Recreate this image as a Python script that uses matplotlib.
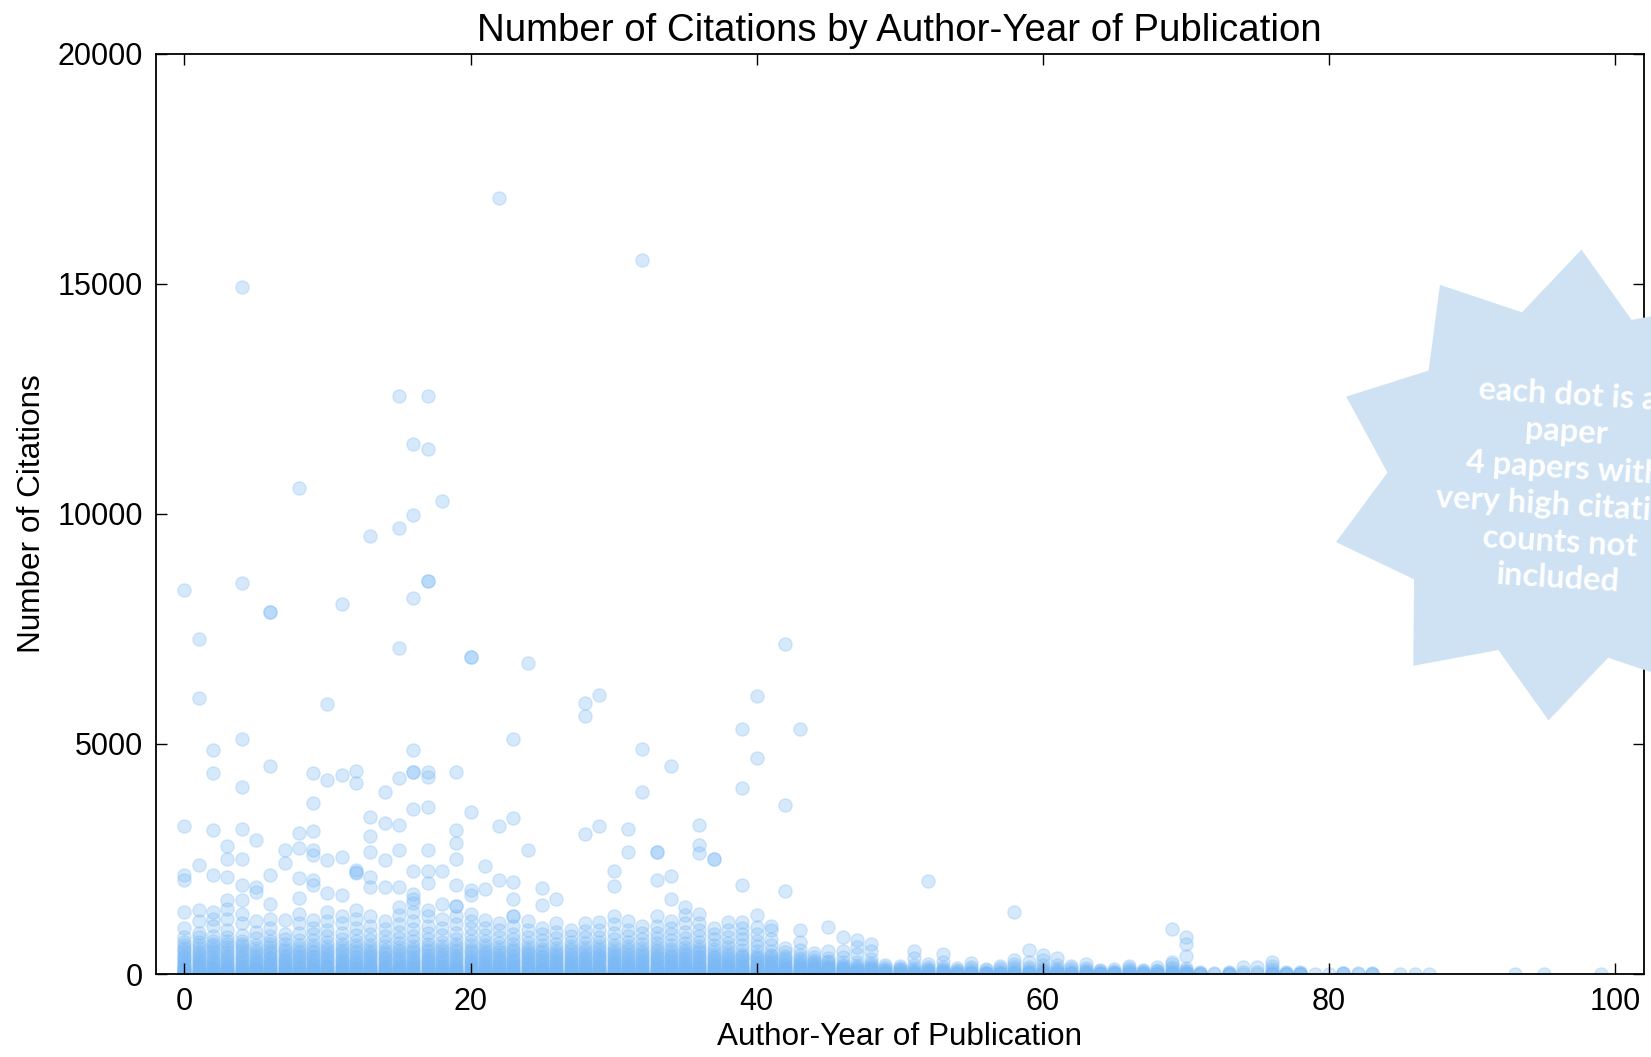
import numpy as np
import matplotlib
matplotlib.use("Agg")
import matplotlib.pyplot as plt
from matplotlib.patches import Polygon

# Highly cited papers that stand out above the crowded band
outlier_years = [
    0, 0, 0, 0, 0,
    1, 1, 1, 1,
    2, 2, 2, 2, 2,
    3, 3, 3, 3, 3,
    4, 4, 4, 4, 4, 4, 4, 4,
    5, 5, 5,
    6, 6, 6, 6, 6,
    7, 7, 7,
    8, 8, 8, 8, 8,
    9, 9, 9, 9, 9, 9, 9,
    10, 10, 10, 10,
    11, 11, 11, 11,
    12, 12, 12, 12, 12,
    13, 13, 13, 13, 13, 13,
    14, 14, 14, 14,
    15, 15, 15, 15, 15, 15, 15,
    16, 16, 16, 16, 16, 16, 16, 16, 16, 16,
    17, 17, 17, 17, 17, 17, 17, 17, 17, 17,
    18, 18, 18,
    19, 19, 19, 19, 19, 19, 19,
    20, 20, 20, 20, 20,
    21, 21,
    22, 22, 22,
    23, 23, 23, 23, 23, 23,
    24, 24,
    25, 25,
    26,
    28, 28, 28,
    29, 29,
    30, 30,
    31, 31,
    32, 32, 32,
    33, 33, 33,
    34, 34, 34,
    35,
    36, 36, 36,
    37, 37,
    38,
    39, 39, 39,
    40, 40,
    42, 42, 42,
    43,
    52, 58, 69,
    70, 70, 70,
]
outlier_cites = [
    8350, 3220, 2150, 2040, 1350,
    7280, 6000, 2370, 1390,
    4870, 4370, 3130, 2150, 1350,
    2780, 2510, 2110, 1600, 1420,
    14920, 8490, 5100, 4060, 3150, 2500, 1940, 1600,
    2910, 1890, 1780,
    7870, 7870, 4510, 2150, 1530,
    2700, 2410, 1170,
    10570, 3070, 2730, 2080, 1650,
    4370, 3710, 3110, 2700, 2590, 2040, 1930,
    5860, 4210, 2480, 1750,
    8050, 4320, 2550, 1720,
    4420, 4160, 2260, 2190, 2220,
    9520, 3420, 2990, 2660, 2110, 1890,
    3960, 3290, 2480, 1890,
    12560, 9700, 7090, 4260, 3240, 2700, 1890,
    11510, 9980, 8170, 4870, 4390, 4390, 3580, 2240, 1730, 1620,
    12560, 11420, 8530, 8530, 4390, 4280, 3620, 2700, 2240, 1970,
    10270, 2240, 1520,
    4390, 3130, 2850, 2500, 1930, 1480, 1480,
    6890, 6890, 3530, 1830, 1720,
    2350, 1840,
    16860, 3220, 2040,
    5100, 3400, 1990, 1620, 1250, 1250,
    6750, 2700,
    1860, 1500,
    1640,
    5880, 5610, 3040,
    6060, 3220,
    2240, 1910,
    3150, 2660,
    15510, 4900, 3960,
    2660, 2660, 2050,
    4530, 2120, 1640,
    1460,
    3240, 2810, 2630,
    2500, 2500,
    1130,
    5330, 4050, 1930,
    6040, 4690,
    7180, 3680, 1810,
    5330,
    2030, 1350, 980,
    800, 660, 390,
]

# Crowded low-citation papers, one list per author-year (index = year)
band_cites = [
    [0, 0, 0, 10, 20, 40, 60, 80, 100, 130, 160, 190, 220, 260, 300, 340, 380, 420, 470, 520, 570, 630, 700, 800, 1000],
    [0, 0, 10, 20, 30, 50, 70, 90, 120, 150, 180, 210, 250, 290, 330, 370, 410, 460, 510, 560, 620, 700, 800, 900, 1150],
    [0, 0, 0, 10, 30, 50, 70, 100, 130, 160, 190, 230, 270, 310, 350, 400, 450, 500, 550, 600, 660, 720, 820, 1050, 1200],
    [0, 0, 10, 20, 40, 60, 80, 110, 140, 170, 200, 240, 280, 320, 370, 420, 470, 520, 580, 650, 720, 800, 950, 1200],
    [0, 0, 0, 10, 30, 50, 70, 90, 120, 150, 180, 220, 260, 300, 340, 390, 440, 490, 540, 600, 660, 720, 850, 1100, 1300],
    [0, 0, 10, 20, 40, 60, 80, 100, 130, 160, 190, 230, 270, 310, 350, 400, 450, 500, 560, 640, 780, 920, 1150],
    [0, 0, 0, 10, 30, 50, 70, 100, 130, 160, 190, 220, 260, 300, 340, 380, 430, 480, 530, 580, 650, 720, 820, 1000, 1200],
    [0, 0, 10, 20, 40, 60, 90, 120, 150, 180, 210, 250, 290, 330, 370, 420, 470, 520, 570, 650, 760, 880],
    [0, 0, 0, 10, 30, 50, 70, 100, 130, 160, 200, 240, 280, 320, 360, 410, 460, 510, 560, 630, 740, 900, 1100, 1300],
    [0, 0, 10, 20, 40, 60, 80, 110, 140, 170, 200, 240, 280, 320, 360, 400, 450, 500, 560, 640, 740, 860, 1000, 1180],
    [0, 0, 0, 10, 30, 50, 70, 90, 120, 150, 180, 220, 260, 300, 340, 390, 440, 490, 540, 600, 700, 820, 960, 1150, 1350],
    [0, 0, 10, 20, 40, 60, 90, 120, 150, 180, 210, 250, 290, 330, 380, 430, 480, 530, 590, 660, 760, 900, 1100, 1250],
    [0, 0, 0, 10, 30, 50, 70, 100, 130, 160, 190, 230, 270, 310, 350, 400, 450, 500, 560, 620, 720, 840, 1000, 1200, 1400],
    [0, 0, 10, 20, 40, 60, 80, 110, 140, 170, 200, 240, 280, 320, 360, 410, 460, 510, 570, 640, 740, 880, 1050, 1250],
    [0, 0, 0, 10, 30, 50, 70, 90, 120, 150, 180, 220, 260, 300, 340, 380, 430, 480, 530, 600, 700, 820, 980, 1150],
    [0, 0, 10, 20, 40, 60, 80, 110, 140, 170, 200, 240, 280, 320, 370, 420, 470, 520, 580, 670, 780, 920, 1080, 1280, 1450],
    [0, 0, 0, 10, 30, 50, 70, 100, 130, 160, 190, 230, 270, 310, 350, 400, 450, 500, 550, 610, 710, 830, 980, 1150, 1350, 1550],
    [0, 0, 10, 20, 40, 60, 90, 120, 150, 180, 210, 250, 290, 330, 370, 420, 470, 520, 580, 650, 760, 890, 1050, 1250, 1400],
    [0, 0, 0, 10, 30, 50, 70, 90, 120, 150, 180, 220, 260, 300, 340, 390, 440, 490, 540, 600, 700, 850, 1000, 1200],
    [0, 0, 10, 20, 40, 60, 80, 110, 140, 170, 200, 240, 280, 320, 370, 420, 470, 520, 580, 660, 760, 900, 1080, 1250],
    [0, 0, 0, 10, 30, 50, 70, 100, 130, 160, 190, 230, 270, 310, 350, 400, 450, 500, 550, 620, 720, 850, 1000, 1150, 1300],
    [0, 0, 10, 20, 40, 60, 80, 110, 140, 170, 200, 240, 280, 320, 360, 410, 460, 510, 560, 620, 720, 850, 1000, 1180],
    [0, 0, 0, 10, 30, 50, 70, 90, 120, 150, 180, 210, 250, 290, 330, 370, 420, 470, 520, 580, 680, 800, 950, 1100],
    [0, 0, 10, 20, 40, 60, 90, 120, 150, 180, 210, 250, 290, 330, 370, 420, 470, 520, 570, 650, 750, 880, 1050],
    [0, 0, 0, 10, 30, 50, 70, 100, 130, 160, 190, 230, 270, 310, 350, 390, 430, 480, 530, 590, 680, 800, 950, 1150],
    [0, 0, 10, 20, 40, 60, 80, 110, 140, 170, 200, 240, 280, 320, 360, 400, 450, 500, 550, 640, 740, 870, 1000],
    [0, 0, 0, 10, 30, 50, 70, 90, 120, 150, 180, 210, 250, 290, 330, 370, 410, 460, 510, 570, 660, 780, 920, 1100],
    [0, 0, 10, 20, 40, 60, 80, 110, 140, 170, 200, 230, 270, 310, 350, 390, 440, 490, 540, 610, 700, 820, 950],
    [0, 0, 0, 10, 30, 50, 70, 100, 130, 160, 190, 220, 260, 300, 340, 380, 420, 470, 520, 590, 680, 800, 940, 1100],
    [0, 0, 10, 20, 40, 60, 80, 110, 140, 170, 200, 240, 280, 320, 360, 400, 440, 490, 540, 600, 690, 810, 950, 1120],
    [0, 0, 0, 10, 30, 50, 70, 90, 120, 150, 180, 210, 250, 290, 330, 370, 410, 460, 510, 560, 630, 750, 900, 1080, 1250],
    [0, 0, 10, 20, 40, 60, 80, 110, 140, 170, 200, 230, 270, 310, 350, 390, 440, 490, 540, 600, 700, 820, 960, 1150],
    [0, 0, 0, 10, 30, 50, 70, 90, 120, 150, 180, 210, 250, 290, 330, 370, 410, 450, 500, 560, 650, 770, 900, 1050],
    [0, 0, 10, 20, 40, 60, 80, 100, 130, 160, 190, 220, 260, 300, 340, 380, 420, 470, 520, 580, 670, 780, 900, 1050, 1250],
    [0, 0, 0, 10, 30, 50, 70, 90, 120, 150, 180, 210, 240, 280, 320, 360, 400, 440, 490, 540, 620, 730, 860, 1000, 1150],
    [0, 0, 10, 20, 40, 60, 80, 110, 140, 170, 200, 230, 270, 310, 350, 390, 430, 480, 530, 580, 670, 780, 920, 1100, 1280],
    [0, 0, 0, 10, 30, 50, 70, 90, 120, 150, 180, 210, 240, 280, 320, 360, 400, 450, 500, 550, 600, 700, 820, 950, 1100, 1300],
    [0, 0, 10, 20, 40, 60, 80, 100, 130, 160, 190, 220, 260, 300, 340, 380, 420, 470, 550, 640, 750, 880, 1000],
    [0, 0, 0, 10, 30, 50, 70, 90, 110, 140, 170, 200, 230, 270, 310, 350, 390, 430, 500, 580, 680, 800, 950],
    [0, 0, 10, 20, 30, 50, 70, 90, 110, 140, 170, 200, 240, 280, 320, 360, 400, 440, 520, 620, 760, 880, 1000, 1140],
    [0, 0, 0, 10, 30, 50, 70, 90, 110, 130, 160, 190, 220, 260, 300, 340, 380, 420, 500, 600, 720, 880, 1020, 1280],
    [0, 0, 10, 20, 30, 50, 70, 90, 110, 140, 170, 200, 230, 270, 310, 350, 390, 420, 510, 620, 760, 960, 1050],
    [0, 0, 0, 10, 20, 40, 60, 80, 100, 130, 160, 190, 220, 260, 300, 340, 390, 470, 560],
    [0, 0, 10, 20, 30, 50, 70, 90, 110, 130, 160, 190, 220, 260, 300, 340, 420, 520, 700, 960],
    [0, 0, 0, 10, 20, 40, 60, 80, 100, 120, 140, 170, 200, 230, 270, 310, 360, 450],
    [0, 0, 10, 20, 30, 50, 70, 90, 110, 130, 150, 180, 210, 250, 290, 350, 500, 1020],
    [0, 0, 0, 10, 20, 40, 60, 80, 100, 120, 140, 170, 200, 250, 380, 510, 800],
    [0, 0, 10, 20, 30, 50, 70, 90, 110, 130, 160, 200, 270, 430, 590, 730],
    [0, 0, 0, 10, 20, 40, 60, 80, 100, 130, 160, 200, 240, 330, 500, 660],
    [0, 0, 10, 20, 30, 50, 70, 90, 110, 150, 200],
    [0, 0, 0, 10, 20, 40, 60, 80, 100, 130, 170],
    [0, 0, 10, 20, 30, 40, 60, 90, 130, 200, 350, 510],
    [0, 0, 0, 10, 20, 40, 60, 80, 100, 150, 220],
    [0, 0, 10, 20, 30, 50, 70, 90, 110, 160, 250, 440],
    [0, 0, 0, 10, 20, 40, 60, 90, 130],
    [0, 0, 10, 20, 30, 40, 60, 100, 150, 230],
    [0, 0, 0, 10, 20, 30, 50, 80, 110],
    [0, 0, 10, 20, 30, 50, 80, 120, 170],
    [0, 0, 0, 10, 20, 40, 60, 100, 150, 220, 300],
    [0, 0, 10, 20, 30, 40, 70, 110, 160, 250, 520],
    [0, 0, 0, 10, 20, 40, 60, 90, 140, 200, 300, 420],
    [0, 0, 10, 20, 30, 40, 60, 90, 130, 200, 350],
    [0, 0, 0, 10, 20, 30, 50, 80, 120, 180],
    [0, 0, 10, 20, 30, 40, 60, 90, 140, 220],
    [0, 0, 0, 10, 20, 40, 60, 90],
    [0, 0, 10, 20, 30, 40, 70, 100],
    [0, 0, 0, 10, 20, 40, 60, 90, 130, 180],
    [0, 0, 10, 20, 30, 40, 60, 80],
    [0, 0, 0, 10, 20, 40, 60, 90, 150],
    [0, 0, 10, 20, 30, 40, 70, 110, 160, 210, 250],
    [0, 0, 0, 10, 20, 40, 60, 90, 140],
    [0, 0, 10, 20, 40],
    [0, 30],
    [0, 0, 10, 20, 40],
    [0, 50, 150],
    [0, 40, 160],
    [0, 0, 10, 30, 60, 100, 180, 250],
    [0, 0, 10, 30, 50],
    [0, 0, 10, 30, 50],
    [10],
    [10],
    [0, 20, 30],
    [0, 20],
    [0, 10, 30],
    [],
    [10],
    [10],
    [10],
    [], [], [], [], [],
    [10],
    [],
    [10],
    [], [], [],
    [10],
]

note_text = ("each dot is a\npaper\n4 papers with\nvery high citation\n"
             "counts not\nincluded")

plt.rcParams['font.family'] = ['Liberation Sans', 'DejaVu Sans']

# flatten the per-year lists into x/y for scatter
band_x = []
band_y = []
for year, cites in enumerate(band_cites):
    for c in cites:
        band_x.append(year)
        band_y.append(c)

xs = band_x + outlier_years
ys = band_y + outlier_cites

W, H = 1651, 1057
fig = plt.figure(figsize=(W / 100, H / 100), dpi=100)
ax = fig.add_axes([155.8 / W, 1 - 974 / H, (1643.7 - 155.8) / W, (974 - 53.7) / H])

ax.scatter(xs, ys, s=90, color='#7ab9f5', alpha=0.3, linewidths=1.0)

ax.set_xlim(-2, 102)
ax.set_ylim(0, 20000)
ax.set_xticks([0, 20, 40, 60, 80, 100])
ax.set_yticks([0, 5000, 10000, 15000, 20000])
ax.tick_params(direction='in', top=True, right=True, length=8, width=1,
               labelsize=22, pad=9, colors='black')
for sp in ax.spines.values():
    sp.set_linewidth(1.3)

ax.set_title("Number of Citations by Author-Year of Publication", fontsize=27.6, pad=9)
ax.set_xlabel("Author-Year of Publication", fontsize=22.7, labelpad=4)
ax.set_ylabel("Number of Citations", fontsize=22.7, labelpad=8)

# ten point star callout, partly running off the right edge
cx, cy = 1565, 485
r_out, r_in = 236, 178
verts = []
for k in range(20):
    ang = np.deg2rad(86 + 18 * k)
    r = r_out if k % 2 == 0 else r_in
    px = cx + r * np.cos(ang)
    py = cy - r * np.sin(ang)
    verts.append((px / W, 1 - py / H))
star = Polygon(verts, closed=True, transform=fig.transFigure,
               facecolor='#cfe2f3', edgecolor='none', zorder=10)
fig.add_artist(star)

fig.text(1563 / W, 1 - 487 / H, note_text, ha='center', va='center',
         multialignment='center', rotation=-3.5, rotation_mode='anchor',
         fontsize=23.5, fontweight='bold', family='Lato', color='white',
         linespacing=1.32, zorder=11)

fig.savefig('out.png', dpi=100)
